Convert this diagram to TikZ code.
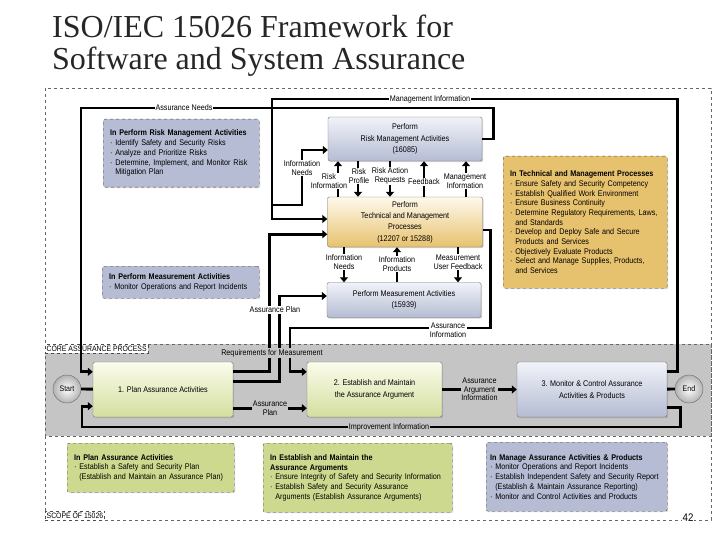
\documentclass[tikz,border=0pt]{standalone}
\usepackage{fontspec}
\setmainfont{Liberation Serif}
\newfontfamily\etroit[FakeStretch=0.88]{Liberation Sans}
\usetikzlibrary{arrows.meta, positioning, calc, shadows}
\definecolor{bleu}{RGB}{181,188,211}
\definecolor{bleuclair}{RGB}{241,243,249}
\definecolor{ocre}{RGB}{231,194,110}
\definecolor{ocreclair}{RGB}{254,249,236}
\definecolor{vert}{RGB}{204,217,142}
\definecolor{vertclair}{RGB}{251,252,236}
\definecolor{gris}{RGB}{197,197,197}
\tikzset{
  boite/.style={draw=black!55, rounded corners=2pt, align=center,
    font=\etroit\fontsize{8.2}{11.3}\selectfont, inner sep=2pt,
    drop shadow={opacity=0.35, shadow xshift=1.2pt, shadow yshift=-1.2pt}},
  boitebleu/.style={boite, top color=bleuclair, bottom color=bleu},
  boiteocre/.style={boite, top color=ocreclair, bottom color=ocre},
  boitevert/.style={boite, top color=vertclair, bottom color=vert!85},
  note/.style={draw=black!70, dashed, rounded corners=2pt, align=left,
    anchor=north west, inner xsep=7pt, inner ysep=2pt,
    font=\etroit\fontsize{8.2}{9.7}\selectfont,
    drop shadow={opacity=0.3, shadow xshift=1pt, shadow yshift=-1pt}},
  borne/.style={circle, draw=black!60, minimum size=28pt, inner sep=0pt,
    inner color=white, outer color=black!30, font=\etroit\fontsize{8}{9}\selectfont},
  trait/.style={line width=2.8pt},
  fleche/.style={trait, -{Triangle[length=5pt, width=8pt]}},
  etiq/.style={fill=white, inner sep=0.8pt, align=center, font=\etroit\fontsize{8.2}{8.6}\selectfont},
  etiqgris/.style={etiq, fill=gris},
  cadre/.style={draw=black!70, dashed, fill=white, inner sep=1.5pt,
    font=\etroit\fontsize{7.8}{8}\selectfont},
}
\begin{document}
\begin{tikzpicture}[x=1pt, y=-1pt]
\useasboundingbox (0,0) rectangle (720,540);
% titre
\node[anchor=base west, inner sep=0pt, text=black!85, font=\fontsize{32}{34}\selectfont] (titre1) at (52,38) {ISO/IEC 15026 Framework for};
\node[anchor=base west, inner sep=0pt, text=black!85, font=\fontsize{32}{34}\selectfont] (titre2) at (52,70) {Software and System Assurance};
% cadre 15026 et bande du processus
\draw[black!60, dashed] (45,88) rectangle (711,520);
\draw[black!60, dashed, fill=gris] (45,344) rectangle (711,436);
\node[cadre, anchor=north west] (core) at (45,344) {CORE ASSURANCE PROCESS};
\node[cadre, anchor=south west] (scope) at (45,520) {SCOPE OF 15026};
\node[fill=white, inner sep=1pt, font=\etroit\fontsize{11}{12}\selectfont] (page) at (688,518) {42};

% processus du haut
\node[boitebleu, minimum width=154, minimum height=44] (rm) at (405,139) {Perform\\Risk Management Activities\\(16085)};
\node[boiteocre, minimum width=155, minimum height=50] (tmp) at (405,222) {Perform\\Technical and Management\\Processes\\(12207 or 15288)};
\node[boitebleu, minimum width=154, minimum height=35] (mes) at (404,300) {Perform Measurement Activities\\(15939)};

% processus central
\node[borne] (debut) at (67,389) {Start};
\node[borne] (fin) at (689,389) {End};
\node[boitevert, minimum width=140, minimum height=55] (plan) at (163,389.5) {1. Plan Assurance Activities};
\node[boitevert, minimum width=135, minimum height=55] (argu) at (374.5,389.5) {2. Establish and Maintain\\the Assurance Argument};
\node[boitebleu, minimum width=150, minimum height=55] (suivi) at (592,389.5) {3. Monitor \& Control Assurance\\Activities \& Products};

% notes
\node[note, fill=bleu, minimum width=156, minimum height=68, text width=142] (nrisque) at (103,119) {\textbf{In Perform Risk Management Activities}\\
  · Identify Safety and Security Risks\\
  · Analyze and Prioritize Risks\\
  · Determine, Implement, and Monitor Risk\\
  \phantom{· }Mitigation Plan};
\node[note, fill=bleu, minimum width=157, minimum height=32, text width=143] (nmesure) at (102,266) {\textbf{In Perform Measurement Activities}\\
  · Monitor Operations and Report Incidents};
\node[note, fill=ocre, minimum width=164, minimum height=132, text width=150] (ntech) at (503,156) {\textbf{In Technical and Management Processes}\\
  · Ensure Safety and Security Competency\\
  · Establish Qualified Work Environment\\
  · Ensure Business Continuity\\
  · Determine Regulatory Requirements, Laws,\\
  \phantom{· }and Standards\\
  · Develop and Deploy Safe and Secure\\
  \phantom{· }Products and Services\\
  · Objectively Evaluate Products\\
  · Select and Manage Supplies, Products,\\
  \phantom{· }and Services};
\node[note, fill=vert, minimum width=167, minimum height=49, text width=153] (nplan) at (67,443) {\textbf{In Plan Assurance Activities}\\
  · Establish a Safety and Security Plan\\
  \phantom{· }(Establish and Maintain an Assurance Plan)};
\node[note, fill=vert, minimum width=189, minimum height=69, text width=175] (nargu) at (263,443) {\textbf{In Establish and Maintain the}\\
  \textbf{Assurance Arguments}\\
  · Ensure Integrity of Safety and Security Information\\
  · Establish Safety and Security Assurance\\
  \phantom{· }Arguments (Establish Assurance Arguments)};
\node[note, fill=bleu, minimum width=181, minimum height=69, inner xsep=4pt, text width=173] (nsuivi) at (486,442) {\textbf{In Manage Assurance Activities \& Products}\\
  · Monitor Operations and Report Incidents\\
  · Establish Independent Safety and Security Report\\
  \phantom{· }(Establish \& Maintain Assurance Reporting)\\
  · Monitor and Control Activities and Products};

% risque <-> technique
\draw[fleche] ([xshift=-67pt]tmp.north) -- ([xshift=-67pt]rm.south);
\draw[fleche] ([xshift=-47pt]rm.south) -- ([xshift=-47pt]tmp.north);
\draw[fleche] ([xshift=-15pt]rm.south) -- ([xshift=-15pt]tmp.north);
\draw[fleche] ([xshift=19pt]tmp.north) -- ([xshift=19pt]rm.south);
\draw[fleche] ([xshift=61pt]tmp.north) -- ([xshift=61pt]rm.south);
% technique <-> mesure
\draw[fleche] ([xshift=-61pt]tmp.south) -- node[etiq, pos=0.42] (lin) {Information\\Needs} ([xshift=-60pt]mes.north);
\draw[fleche] ([xshift=-7pt]mes.north) -- node[etiq, pos=0.52] (lip) {Information\\Products} ([xshift=-8pt]tmp.south);
\draw[fleche] ([xshift=53pt]tmp.south) -- node[etiq, pos=0.42] (lmuf) {Measurement\\User Feedback} ([xshift=54pt]mes.north);

% besoins d'assurance
\draw[fleche] (rm.east) -- ++(11,0) |- (81,108) |- ($(plan.north west)+(0,10)$);
% information de gestion, avec la branche des besoins d'information
\draw[fleche] ($(suivi.north east)+(0,10)$) -- ++(10,0) |- (272,99) |- ($(tmp.west)+(0,-3)$);
\coordinate (jonction) at (272,205);
\draw[fleche] (jonction) -| (302,160) |- ($(rm.west)+(0,11)$);
% exigences de mesure
\draw[fleche] ($(plan.north east)+(0,10)$) -- ++(36,0) |- ($(tmp.south west)+(0,-13)$);
% plan d'assurance vers la mesure
\draw[fleche] ($(plan.north east)+(0,20)$) -- ++(46,0) |- ($(mes.west)+(0,-4)$);
% information d'assurance
\draw[fleche] ($(tmp.east)+(0,8)$) -- ++(8,0) |- (290,328) |- ($(argu.north west)+(0,10)$);

% processus central
\draw[trait] (debut) -- (plan);
\draw[trait] (suivi) -- (fin);
\draw[fleche] ($(plan.south east)+(0,-9)$) -- node[etiqgris] (lap2) {Assurance\\Plan} ($(argu.south west)+(0,-9)$);
\draw[fleche] (argu) -- node[etiqgris] (laai) {Assurance\\Argument\\Information} (suivi);
\draw[fleche] ($(suivi.south east)+(0,-10)$) -- ++(13,0) |- (82,427) |- ($(plan.south west)+(0,-11)$);

% etiquettes des liens
\node[etiq] (lri) at (329,181) {Risk\\Information};
\node[etiq] (lrp) at (359,176) {Risk\\Profile};
\node[etiq] (lrar) at (390,176) {Risk Action\\Requests};
\node[etiq] (lfb) at (424,182) {Feedback};
\node[etiq] (lmi) at (465,181) {Management\\Information};
\node[etiq] (lan) at (184,108) {Assurance Needs};
\node[etiq] (lmi2) at (430,99) {Management Information};
\node[etiq] (lin2) at (302,168) {Information\\Needs};
\node[etiq] (lap) at (275,310) {Assurance Plan};
\node[etiq] (lai) at (448,330) {Assurance\\Information};
\node[etiqgris] (lrm) at (272,353) {Requirements for Measurement};
\node[etiqgris] (lii) at (389,427) {Improvement Information};
\end{tikzpicture}
\end{document}
